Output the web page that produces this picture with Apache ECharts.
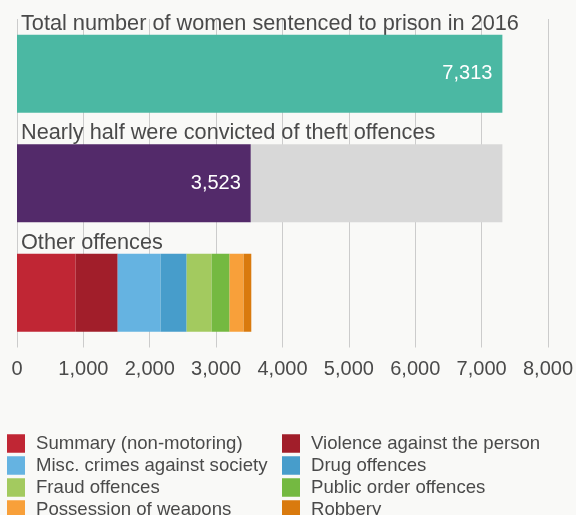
<!DOCTYPE html>
<html>
<head>
<meta charset="utf-8">
<script src="https://cdn.jsdelivr.net/npm/echarts@6/dist/echarts.min.js"></script>
<style>
html,body{margin:0;padding:0;background:#f9f9f7;}
#chart{width:576px;height:515px;}
</style>
</head>
<body>
<div id="chart"></div>
<script>
const categories = [
  'Total number of women sentenced to prison in 2016',
  'Nearly half were convicted of theft offences',
  'Other offences'
];
const totalValues = [7313, '-', '-'];
const theftValues = ['-', 3523, '-'];
const remainderValues = ['-', 3790, '-'];
const offenceNames = [
  'Summary (non-motoring)', 'Violence against the person',
  'Misc. crimes against society', 'Drug offences',
  'Fraud offences', 'Public order offences',
  'Possession of weapons', 'Robbery'
];
const offenceValues = [884, 633, 647, 392, 376, 271, 211, 116];
const xTicks = [0, 1000, 2000, 3000, 4000, 5000, 6000, 7000, 8000];

const offenceColors = ['#c02634', '#a11e2a', '#65b3e1', '#479dcb', '#a3ca5f', '#74b941', '#f8a03a', '#d97a0e'];
const FONT = '"Liberation Sans", Arial, Helvetica, sans-serif';
const TXT = '#4a4a4a';

const chart = echarts.init(document.getElementById('chart'), null, {renderer: 'canvas'});

const fmt = v => Number(v).toLocaleString('en-US');
const valueLabel = {
  show: true, position: 'insideRight', distance: 10,
  color: '#ffffff', fontSize: 20, fontFamily: FONT,
  formatter: p => fmt(p.value)
};

const series = [
  {name: 'Total', type: 'bar', stack: 's', barWidth: 78, data: totalValues,
   itemStyle: {color: '#4bb8a3'}, label: valueLabel},
  {name: 'Theft', type: 'bar', stack: 's', barWidth: 78, data: theftValues,
   itemStyle: {color: '#532a6a'}, label: valueLabel},
  {name: 'Remainder', type: 'bar', stack: 's', barWidth: 78, data: remainderValues,
   itemStyle: {color: '#d8d8d8'}}
];
offenceNames.forEach((n, i) => {
  series.push({
    name: n, type: 'bar', stack: 's', barWidth: 78,
    data: categories.map((c, j) => j === 2 ? offenceValues[i] : '-'),
    itemStyle: {color: offenceColors[i]}
  });
});

const legendCommon = {
  orient: 'vertical', icon: 'rect', itemWidth: 18, itemHeight: 18.5, itemGap: 3,
  top: 434, height: 120, padding: 0, selectedMode: false,
  textStyle: {color: TXT, fontSize: 18.6, fontFamily: FONT, padding: [0, 0, 0, 6]}
};

chart.setOption({
  backgroundColor: '#f9f9f7',
  animation: false,
  grid: {left: 17, right: 27.5, top: 19, bottom: 167.5, containLabel: false},
  xAxis: {
    type: 'value', min: 0, max: 8000, interval: 1000,
    axisLine: {show: false}, axisTick: {show: false},
    splitLine: {show: true, lineStyle: {color: '#cccccc', width: 1}},
    axisLabel: {color: TXT, fontSize: 20, fontFamily: FONT, margin: 12,
      formatter: v => fmt(v)}
  },
  yAxis: {
    type: 'category', data: categories, inverse: true,
    axisLine: {show: false}, axisTick: {show: false},
    axisLabel: {inside: true, margin: 4, color: TXT, fontSize: 21.7, fontFamily: FONT,
      verticalAlign: 'bottom', padding: [0, 0, 39, 0]}
  },
  legend: [
    Object.assign({}, legendCommon, {left: 7,
      data: [offenceNames[0], offenceNames[2], offenceNames[4], offenceNames[6]]}),
    Object.assign({}, legendCommon, {left: 282,
      data: [offenceNames[1], offenceNames[3], offenceNames[5], offenceNames[7]]})
  ],
  series: series
});
</script>
</body>
</html>
